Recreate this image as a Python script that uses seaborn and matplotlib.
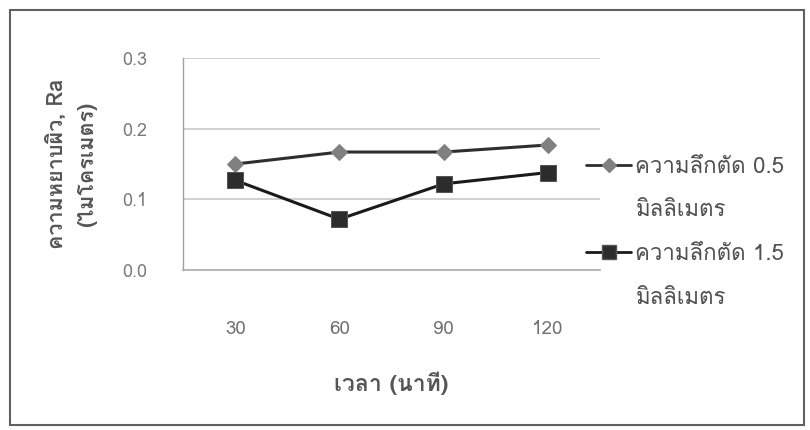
import matplotlib
matplotlib.use("Agg")
import matplotlib.pyplot as plt
from matplotlib import font_manager
from matplotlib.patches import Rectangle
from matplotlib.lines import Line2D
import seaborn as sns
import pandas as pd

# Cutting time (minutes) and surface roughness Ra (micrometres)
times = ["30", "60", "90", "120"]
ra_depth_05 = [0.150, 0.167, 0.167, 0.177]
ra_depth_15 = [0.127, 0.072, 0.122, 0.138]
series_names = ["ความลึกตัด 0.5", "ความลึกตัด 1.5"]
unit_line = "มิลลิเมตร"
y_ticks = [0.0, 0.1, 0.2, 0.3]
x_label = "เวลา (นาที)"
y_label = "ความหยาบผิว, Ra\n(ไมโครเมตร)"


def thai_font():
    """Return the name of an installed family that has Thai glyphs."""
    try:
        from fontTools.ttLib import TTFont
    except Exception:
        return None
    for f in font_manager.fontManager.ttflist:
        try:
            tt = TTFont(f.fname, fontNumber=0, lazy=True)
            cmap = tt.getBestCmap() or {}
            if 0x0E04 in cmap and 0x0E25 in cmap:
                return f.name
        except Exception:
            continue
    return None


sns.set_theme(style="white")
fam = thai_font()
families = ([fam] if fam else []) + ["DejaVu Sans"]
plt.rcParams["font.family"] = families

df = pd.DataFrame({
    "time": times * 2,
    "ra": ra_depth_05 + ra_depth_15,
    "depth": [series_names[0]] * len(times) + [series_names[1]] * len(times),
})

fig = plt.figure(figsize=(8.1, 4.3), dpi=100)
ax = fig.add_axes([0.226, 0.372, 0.515, 0.493])

sns.lineplot(
    data=df, x="time", y="ra", hue="depth", style="depth",
    markers=["D", "s"], dashes=False,
    palette=["#2e2e2e", "#1a1a1a"], linewidth=2.2,
    markersize=10, legend=False, ax=ax, sort=False,
)
# marker colours
lines = ax.get_lines()
lines[0].set_markerfacecolor("#808080")
lines[0].set_markeredgecolor("#808080")
lines[0].set_markersize(8)
lines[1].set_markerfacecolor("#2c2c2c")
lines[1].set_markeredgecolor("#555555")
lines[1].set_markersize(11)

ax.set_xlim(-0.5, 3.5)
ax.set_ylim(0, 0.3)
ax.set_yticks(y_ticks)
ax.set_yticklabels([f"{v:.1f}" for v in y_ticks])
ax.yaxis.grid(True, color="#c8c8c8", linewidth=1.2)
ax.xaxis.grid(False)
for s in ["top", "right"]:
    ax.spines[s].set_visible(False)
ax.spines["left"].set_color("#a0a0a0")
ax.spines["bottom"].set_color("#b0b0b0")
ax.spines["left"].set_linewidth(1)
ax.tick_params(axis="y", colors="#7a7a7a", labelsize=13, length=0, pad=26)
ax.tick_params(axis="x", colors="#707070", labelsize=13.5, length=0, pad=36)

ax.set_xlabel(x_label, fontsize=16.5, fontweight="bold", color="#555555", labelpad=24)
ax.set_ylabel(y_label, fontsize=15.5, fontweight="bold", color="#555555",
              labelpad=18, linespacing=1.6)

blank = Line2D([], [], linestyle="none")
handles = [
    Line2D([], [], color="#2e2e2e", linewidth=2, marker="D",
           markerfacecolor="#808080", markeredgecolor="#808080", markersize=7),
    blank,
    Line2D([], [], color="#1a1a1a", linewidth=2, marker="s",
           markerfacecolor="#2c2c2c", markeredgecolor="#555555", markersize=10),
    blank,
]
labels = [series_names[0], unit_line, series_names[1], unit_line]
leg = fig.legend(handles, labels, loc="upper left",
                 bbox_to_anchor=(0.724, 0.636), frameon=False,
                 fontsize=16, handlelength=2.0, handletextpad=0.2,
                 labelspacing=1.02, borderaxespad=0, borderpad=0)
for t in leg.get_texts():
    t.set_color("#505050")

fig.patches.append(Rectangle((0.012, 0.012), 0.98, 0.965, transform=fig.transFigure,
                             fill=False, edgecolor="#606060", linewidth=1.5))

fig.savefig("out.png", dpi=100)
